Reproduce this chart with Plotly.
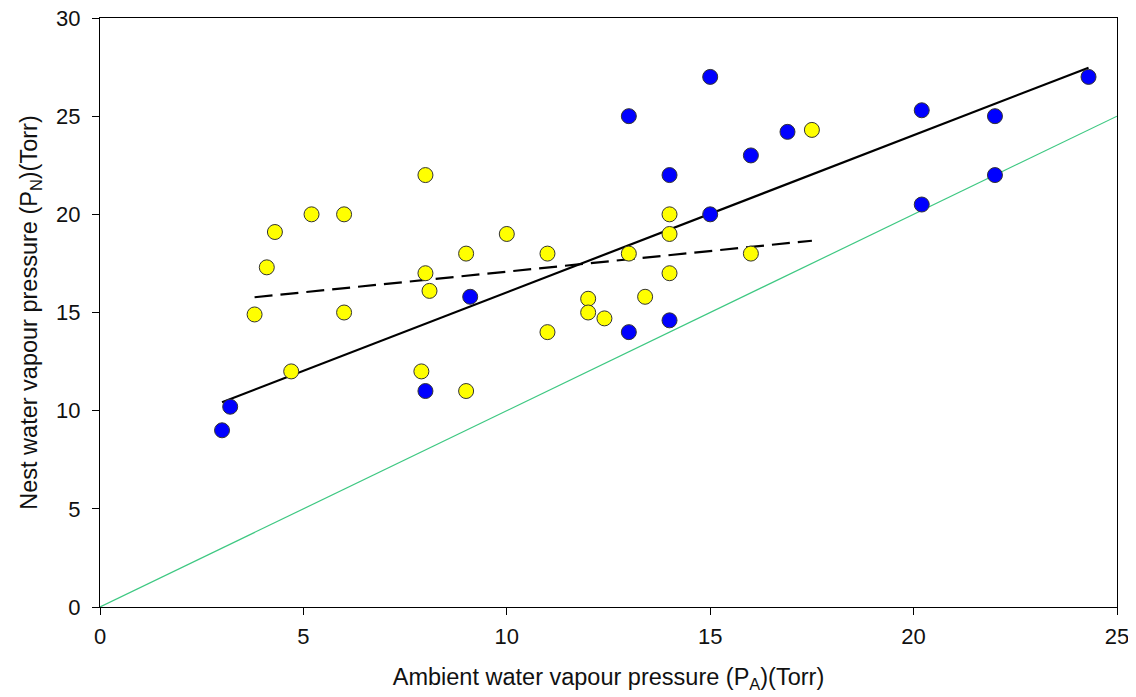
import numpy as np
import plotly.graph_objects as go

# ---- data ----
blue_x = [3.0, 3.2, 8.0, 9.1, 13.0, 13.0, 14.0, 14.0, 15.0, 15.0, 16.0, 16.9,
          20.2, 20.2, 22.0, 22.0, 24.3]
blue_y = [9.0, 10.2, 11.0, 15.8, 25.0, 14.0, 22.0, 14.6, 27.0, 20.0, 23.0, 24.2,
          25.3, 20.5, 25.0, 22.0, 27.0]

yellow_x = [3.8, 4.1, 4.3, 4.7, 5.2, 6.0, 6.0, 7.9, 8.0, 8.0, 8.1, 9.0, 9.0,
            10.0, 11.0, 11.0, 12.0, 12.0, 12.4, 13.0, 13.4, 14.0, 14.0, 14.0,
            16.0, 17.5]
yellow_y = [14.9, 17.3, 19.1, 12.0, 20.0, 20.0, 15.0, 12.0, 22.0, 17.0, 16.1,
            18.0, 11.0, 19.0, 18.0, 14.0, 15.7, 15.0, 14.7, 18.0, 15.8, 20.0,
            19.0, 17.0, 18.0, 24.3]

identity_x = [0, 25]

x_ticks = [0, 5, 10, 15, 20, 25]
y_ticks = [0, 5, 10, 15, 20, 25, 30]

FONT = "Liberation Sans, Arial, sans-serif"

# ---- regression lines (blue: solid, yellow: dashed) ----
def fit_line(xs, ys):
    slope, intercept = np.polyfit(xs, ys, 1)
    lx = np.array([min(xs), max(xs)])
    return lx, intercept + slope * lx

bx, by = fit_line(blue_x, blue_y)
yx, yy = fit_line(yellow_x, yellow_y)

fig = go.Figure()

# 1:1 line
fig.add_trace(go.Scatter(x=identity_x, y=identity_x, mode="lines",
                         line=dict(color="#3ec882", width=1.2), showlegend=False))

fig.add_trace(go.Scatter(x=bx, y=by, mode="lines",
                         line=dict(color="black", width=2.2), showlegend=False))
fig.add_trace(go.Scatter(x=yx, y=yy, mode="lines",
                         line=dict(color="black", width=2.2, dash="18px,8px"),
                         showlegend=False))

fig.add_trace(go.Scatter(x=yellow_x, y=yellow_y, mode="markers",
                         marker=dict(color="#ffff00", size=15,
                                     line=dict(color="#333333", width=1)),
                         showlegend=False))
fig.add_trace(go.Scatter(x=blue_x, y=blue_y, mode="markers",
                         marker=dict(color="#0000ff", size=15,
                                     line=dict(color="#333333", width=1)),
                         showlegend=False))

axis_common = dict(showgrid=False, zeroline=False, showline=True, linecolor="black",
                   linewidth=1, mirror=True, ticks="outside", ticklen=7,
                   tickcolor="black", ticklabeloverflow="allow",
                   tickfont=dict(family=FONT, size=22, color="#111111"))

fig.update_xaxes(range=[0, 25], tickvals=x_ticks, ticklabelstandoff=3,
                 title=dict(text="Ambient water vapour pressure (P<sub>A</sub>)(Torr)",
                            font=dict(family=FONT, size=23.5, color="#111111"), standoff=20),
                 **axis_common)
fig.update_yaxes(range=[0, 30], tickvals=y_ticks, ticklabelstandoff=7,
                 title=dict(text="Nest water vapour pressure (P<sub>N</sub>)(Torr)",
                            font=dict(family=FONT, size=23.5, color="#111111"), standoff=11),
                 **axis_common)

# page body adds an 8px margin, so size/margins are shifted to compensate
fig.update_layout(width=1128, height=689, plot_bgcolor="white", paper_bgcolor="white",
                  margin=dict(l=92, r=19, t=10, b=90, autoexpand=False))

fig.write_html("out.html")
